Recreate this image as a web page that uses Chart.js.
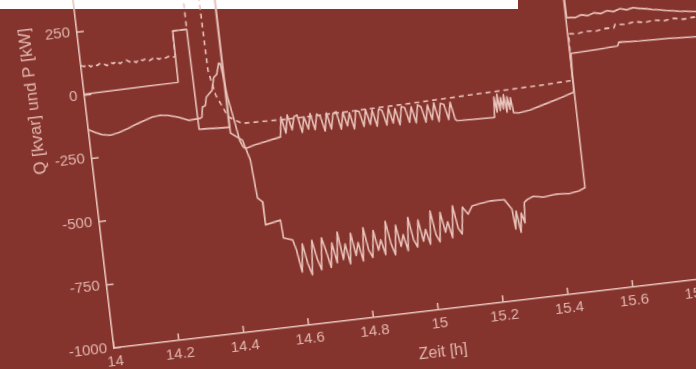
<!DOCTYPE html>
<html>
<head>
<meta charset="utf-8">
<script src="https://cdn.jsdelivr.net/npm/chart.js@4"></script>
<style>
  html, body { margin: 0; padding: 0; width: 696px; height: 369px; overflow: hidden; background: #85332d; }
  #sheet { position: absolute; left: 0; top: 0; width: 518px; height: 9px; background: #fff; }
  #chart { position: absolute; left: 44px; top: -181px; transform-origin: 70px 529px; transform: rotate(-6.7deg); }
</style>
</head>
<body>
<div id="sheet"></div>
<canvas id="chart" width="760" height="620"></canvas>
<script>
// Zeit [h] and values (kvar / kW)
const tA = [14.00, 14.01, 14.02, 14.03, 14.04, 14.05, 14.06, 14.07, 14.08, 14.09, 14.10, 14.11, 14.12, 14.13, 14.14, 14.15,
    14.16, 14.17, 14.18, 14.19, 14.20, 14.21, 14.22, 14.23, 14.24, 14.25, 14.26, 14.27, 14.28, 14.29, 14.292, 14.335, 14.337,
    14.38, 14.385, 14.40, 14.43, 14.47, 14.6, 14.8, 15.0, 15.2, 15.4, 15.49, 15.495, 15.52, 15.55, 15.58, 15.61, 15.635,
    15.64, 15.67, 15.70, 15.73, 15.76, 15.79, 15.82, 15.85, 15.88, 15.9];
const qA = [117, 112, 120, 108, 116, 110, 118, 113, 105, 117, 110, 119, 107, 114, 118, 109,
    113, 104, 116, 109, 114, 105, 111, 116, 106, 112, 108, 113, 106, 110, 210, 210, 800,
    800, 40, -60, -150, -182, -186, -185, -181, -175, -170, -166, 18, 14, 20, 16, 22, 20,
    34, 28, 35, 27, 32, 25, 30, 22, 26, 21];

const tB = [14.00, 14.10, 14.20, 14.29, 14.292, 14.335, 14.337, 14.43, 14.432, 15.49, 15.495, 15.52, 15.54, 15.56, 15.58,
    15.60, 15.62, 15.64, 15.66, 15.68, 15.70, 15.72, 15.74, 15.76, 15.78, 15.80, 15.82, 15.84, 15.86, 15.88, 15.90];
const pB = [4, 5, 7, 8, 210, 210, -185, -192, 800, 800, 82, 78, 86, 80, 88,
    82, 90, 84, 92, 85, 90, 84, 80, 74, 70, 64, 60, 55, 52, 48, 45];

const tC = [14.00, 14.02, 14.04, 14.065, 14.09, 14.12, 14.15, 14.18, 14.20, 14.225, 14.25, 14.28, 14.31, 14.345, 14.35,
    14.355, 14.365, 14.37, 14.39, 14.40, 14.41, 14.42, 14.425, 14.43, 14.435, 14.445, 14.457, 14.465, 14.472, 14.50,
    14.53, 14.56, 14.582,
    14.59, 14.60, 14.61, 14.62, 14.63, 14.64, 14.65, 14.66, 14.67, 14.68, 14.69, 14.70, 14.71, 14.72, 14.73, 14.74,
    14.75, 14.76, 14.77, 14.78, 14.79, 14.80, 14.81, 14.82, 14.83, 14.84, 14.85, 14.86, 14.87, 14.88, 14.89, 14.90,
    14.91, 14.92, 14.93, 14.94, 14.95, 14.96, 14.97, 14.98, 14.99, 15.00, 15.01, 15.02, 15.03, 15.04, 15.05, 15.06,
    15.07, 15.08, 15.09, 15.10, 15.11, 15.12,
    15.125, 15.24, 15.245, 15.25, 15.255, 15.26, 15.265, 15.27, 15.275, 15.28, 15.285, 15.29, 15.295, 15.30, 15.315,
    15.35, 15.40, 15.45, 15.49, 15.495, 15.55, 15.60, 15.64, 15.645, 15.70, 15.75, 15.80, 15.85, 15.9];
const pC = [-136, -150, -162, -168, -162, -150, -136, -124, -116, -113, -118, -130, -146, -143, -140,
    -100, -95, -64, -40, 10, 20, 64, 60, 0, -73, -150, -250, -275, -282, -272,
    -265, -258, -253,
    -175, -240, -170, -230, -180, -175, -245, -185, -235, -175, -240, -180, -190, -250, -180, -245,
    -185, -180, -250, -185, -240, -190, -255, -185, -190, -250, -185, -245, -190, -255, -190, -195,
    -255, -190, -250, -195, -260, -190, -195, -255, -195, -260, -190, -200, -262, -195, -255, -190,
    -265, -195, -200, -262, -195, -265,
    -270, -275, -195, -255, -185, -250, -200, -245, -190, -260, -200, -250, -205, -265, -268,
    -262, -245, -228, -212, -60, -58, -55, -52, -38, -42, -44, -46, -50, -53];

const tD = [14.00, 14.43, 14.431, 14.465, 14.482, 14.49, 14.504, 14.505, 14.552, 14.555, 14.582,
    14.59, 14.60, 14.61, 14.62, 14.63, 14.64, 14.65, 14.66, 14.67, 14.68, 14.69, 14.70, 14.71, 14.72, 14.73, 14.74,
    14.75, 14.76, 14.77, 14.78, 14.79, 14.80, 14.81, 14.82, 14.83, 14.84, 14.85, 14.86, 14.87, 14.88, 14.89, 14.90,
    14.91, 14.92, 14.93, 14.94, 14.95, 14.96, 14.97, 14.98, 14.99, 15.00, 15.01, 15.02, 15.03, 15.04, 15.05, 15.06,
    15.07, 15.08, 15.09, 15.10, 15.11,
    15.125, 15.14, 15.16, 15.20, 15.24, 15.26, 15.265, 15.272, 15.28, 15.287, 15.295, 15.30, 15.31, 15.33, 15.36,
    15.40, 15.44, 15.47, 15.49, 15.495, 15.9];
const pD = [800, 800, -215, -248, -329, -480, -498, -589, -577, -648, -660,
    -700, -790, -680, -760, -805, -670, -745, -790, -665, -720, -785, -690, -770, -650, -760, -700,
    -780, -660, -750, -700, -775, -645, -735, -765, -660, -740, -700, -760, -630, -720, -765, -650,
    -735, -690, -755, -625, -715, -745, -640, -725, -680, -740, -610, -705, -735, -620, -700, -660,
    -725, -600, -690, -715, -610,
    -640, -610, -605, -598, -600, -640, -720, -650, -735, -660, -700, -620, -610, -600, -608,
    -602, -606, -600, -590, 800, 800];

const xTicks = [14, 14.2, 14.4, 14.6, 14.8, 15, 15.2, 15.4, 15.6, 15.8, 16];
const yTicks = [-1000, -750, -500, -250, 0, 250, 500, 750, 1000];

const LINE = '#e8c3ba';
const TEXT = '#e0b5ac';
const FAMILY = "'Liberation Sans', Arial, sans-serif";
const TICK_FONT = { family: FAMILY, size: 15 };

function pts(ts, vs) {
    return ts.map((t, i) => ({ x: t, y: vs[i] }));
}

// tick marks point into the plot, as in the original figure
const innerTicks = {
    id: 'innerTicks',
    afterDraw(chart) {
        const { ctx, chartArea, scales } = chart;
        ctx.save();
        ctx.strokeStyle = LINE;
        ctx.lineWidth = 1.5;
        ctx.beginPath();
        xTicks.forEach(v => {
            const px = scales.x.getPixelForValue(v);
            ctx.moveTo(px, chartArea.bottom);
            ctx.lineTo(px, chartArea.bottom - 7);
        });
        yTicks.forEach(v => {
            const py = scales.y.getPixelForValue(v);
            ctx.moveTo(chartArea.left, py);
            ctx.lineTo(chartArea.left + 7, py);
        });
        ctx.stroke();
        ctx.restore();
    }
};

const common = { borderColor: LINE, borderWidth: 1.6, pointRadius: 0, tension: 0, fill: false, borderJoinStyle: 'round' };

new Chart(document.getElementById('chart'), {
    type: 'line',
    data: {
        datasets: [
            { ...common, label: 'Q1', data: pts(tA, qA), borderDash: [5, 4] },
            { ...common, label: 'P1', data: pts(tB, pB) },
            { ...common, label: 'Q2', data: pts(tC, pC) },
            { ...common, label: 'P2', data: pts(tD, pD) }
        ]
    },
    options: {
        responsive: false,
        animation: false,
        layout: { padding: { left: 8, right: 37, top: 20, bottom: 39 } },
        plugins: { legend: { display: false }, tooltip: { enabled: false } },
        scales: {
            x: {
                type: 'linear',
                min: 14,
                max: 16,
                afterFit: s => { s.height = 52; },
                afterBuildTicks: s => { s.ticks = xTicks.map(v => ({ value: v })); },
                grid: { drawOnChartArea: false, drawTicks: false },
                border: { display: true, color: LINE, width: 1.6 },
                ticks: { color: TEXT, font: TICK_FONT, padding: 5, maxRotation: 0, callback: v => String(+v.toFixed(1)) },
                title: { display: true, text: 'Zeit [h]', color: TEXT, font: { family: FAMILY, size: 16 }, padding: 0 }
            },
            y: {
                min: -1000,
                max: 1000,
                afterFit: s => { s.width = 62; },
                afterBuildTicks: s => { s.ticks = yTicks.map(v => ({ value: v })); },
                grid: { drawOnChartArea: false, drawTicks: false },
                border: { display: true, color: LINE, width: 1.6 },
                ticks: { color: TEXT, font: TICK_FONT, padding: 7, callback: v => String(v) },
                title: { display: true, text: 'Q [kvar] und P [kW]', color: TEXT, font: { family: FAMILY, size: 17 }, padding: 0 }
            }
        }
    },
    plugins: [innerTicks]
});
</script>
</body>
</html>
